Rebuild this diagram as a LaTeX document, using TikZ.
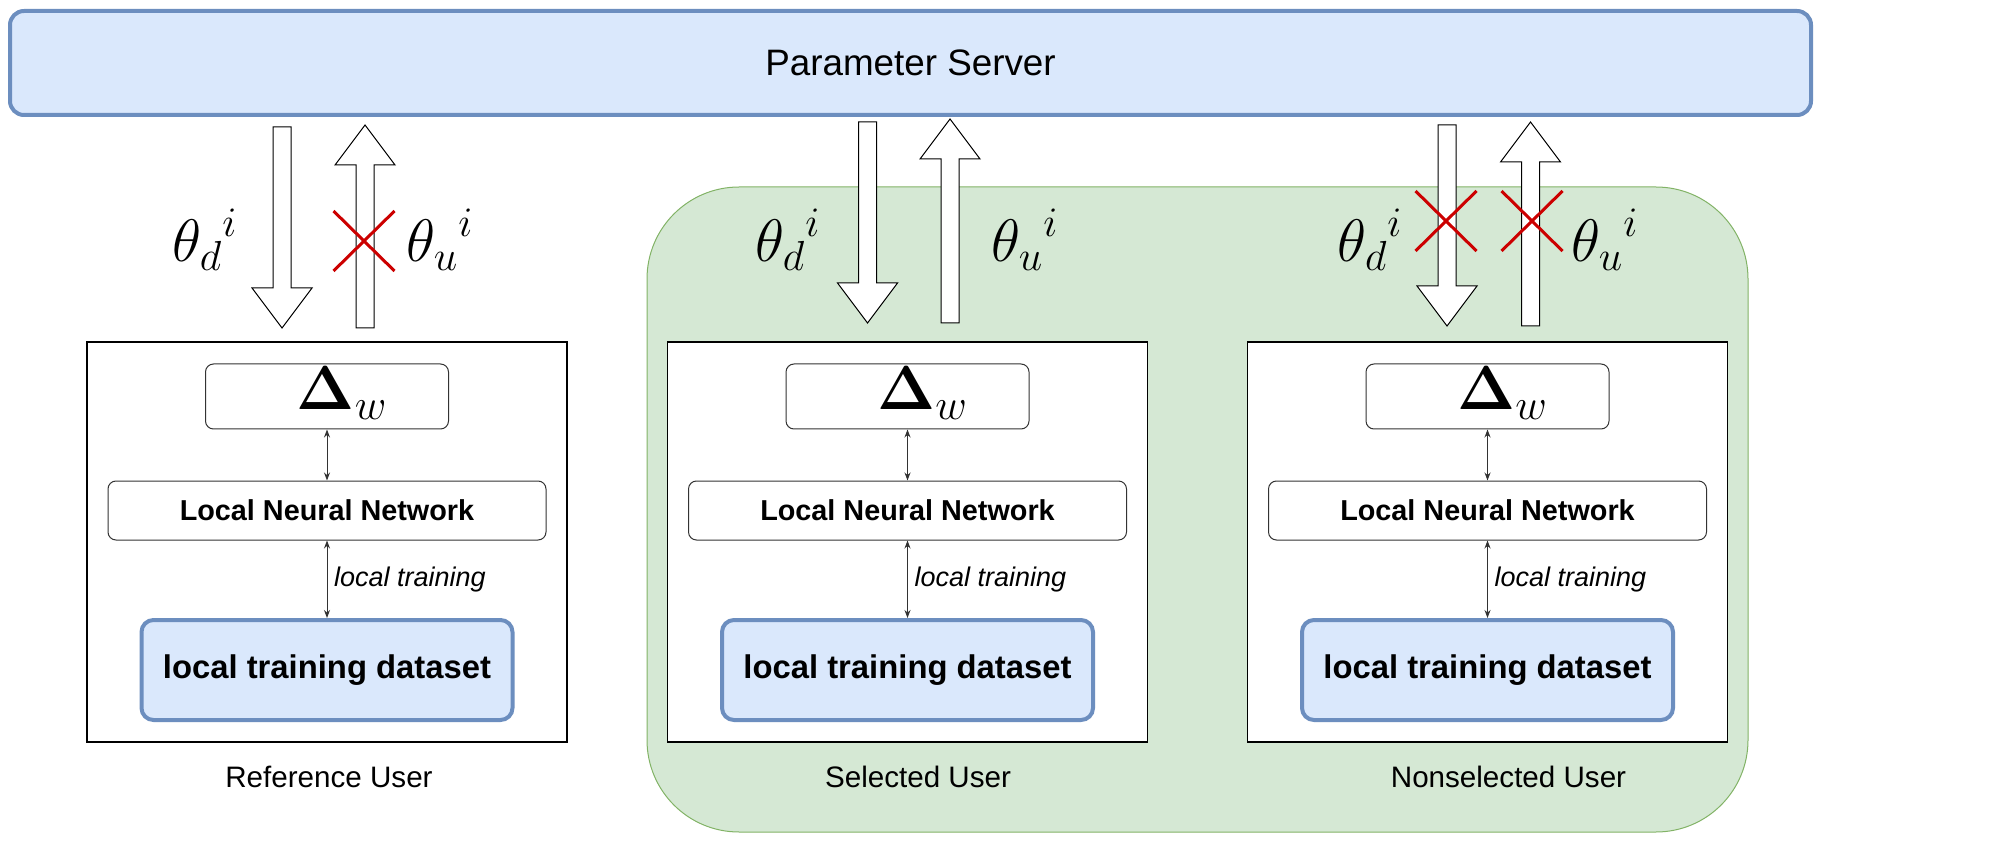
\RequirePackage{fix-cm}
\documentclass[tikz,border=0pt]{standalone}
\usepackage[no-math]{fontspec}
\setmainfont{Liberation Sans}
\usepackage{amsmath}
\usetikzlibrary{shapes.misc, arrows.meta}

\definecolor{psblue}{HTML}{6C8EBF}
\definecolor{psfill}{HTML}{DAE8FC}
\definecolor{selfill}{HTML}{D5E8D4}
\definecolor{selline}{HTML}{82B366}
\definecolor{crossred}{HTML}{CC0000}

% hollow block arrows: x, top, bottom
\newcommand{\downblock}[3]{\draw[block] (#1-9,#2) -- (#1+9,#2) -- (#1+9,#3-40) -- (#1+30,#3-40) -- (#1,#3) -- (#1-30,#3-40) -- (#1-9,#3-40) -- cycle;}
\newcommand{\upblock}[3]{\draw[block] (#1-9,#3) -- (#1+9,#3) -- (#1+9,#2+40) -- (#1+30,#2+40) -- (#1,#2) -- (#1-30,#2+40) -- (#1-9,#2+40) -- cycle;}
\newcommand{\deltaw}{\hspace*{15pt}\raisebox{0pt}[13.5pt][0pt]{$\mathbf{\Delta}_w$}}

\begin{document}
\begin{tikzpicture}[x=0.5pt, y=-0.5pt,
  server/.style={rectangle, rounded corners=7pt, draw=psblue, fill=psfill, line width=2pt, minimum width=900.5pt, minimum height=52pt, font=\fontsize{18.4}{22}\selectfont},
  selected/.style={rectangle, rounded corners=46pt, draw=selline, fill=selfill, line width=0.5pt, minimum width=550.5pt, minimum height=322.5pt},
  user/.style={rectangle, draw=black, fill=white, line width=0.7pt, minimum width=240pt, minimum height=200pt},
  delta/.style={rectangle, rounded corners=4pt, draw=black!80, fill=white, line width=0.5pt, minimum width=121.5pt, minimum height=32.5pt, inner sep=0pt, font=\fontsize{31}{36}\selectfont},
  lnn/.style={rectangle, rounded corners=4pt, draw=black!80, fill=white, line width=0.5pt, minimum width=219pt, minimum height=29.5pt, font=\bfseries\fontsize{14.4}{17}\selectfont},
  dataset/.style={rectangle, rounded corners=6pt, draw=psblue, fill=psfill, line width=2pt, minimum width=185.5pt, minimum height=50pt, font=\bfseries\fontsize{16.4}{19}\selectfont},
  caption/.style={font=\fontsize{14.8}{18}\selectfont},
  train/.style={font=\itshape\fontsize{13.5}{16}\selectfont},
  theta/.style={font=\fontsize{30}{36}\selectfont},
  dbl/.style={draw=black!80, line width=0.5pt, {Stealth[length=4pt,width=3pt]}-{Stealth[length=4pt,width=3pt]}},
  block/.style={draw=black, fill=white, line width=0.5pt},
  nocross/.style={cross out, draw=crossred, line width=1.5pt, minimum width=29pt, minimum height=28.5pt, inner sep=0pt}]
\useasboundingbox (0,0) rectangle (2013,844);

\node[server] (1) at (910.5,63) {Parameter Server};
\node[selected] (2) at (1197.5,509.5) {};

% reference user
\node[user] (10) at (327,542) {};
\node[delta] (11) at (327,396.5) {\deltaw};
\node[lnn] (12) at (327,510.5) {Local Neural Network};
\node[dataset] (13) at (327,670) {local training dataset};
\node[caption] (14) at (329,777) {Reference User};
\draw[dbl] (11) -- (12);
\draw[dbl] (12) --node[right, train]{local training} (13);
\downblock{282}{127}{328}
\upblock{365}{125}{328}
\node[theta] (15) at (205,240) {${\theta_d}^i$};
\node[theta] (16) at (440,240) {${\theta_u}^i$};
\node[nocross] (17) at (364,241) {};

% selected user
\node[user] (20) at (907.5,542) {};
\node[delta] (21) at (907.5,396.5) {\deltaw};
\node[lnn] (22) at (907.5,510.5) {Local Neural Network};
\node[dataset] (23) at (907.5,670) {local training dataset};
\node[caption] (24) at (918,777) {Selected User};
\draw[dbl] (21) -- (22);
\draw[dbl] (22) --node[right, train]{local training} (23);
\downblock{867.5}{122}{323}
\upblock{950}{119}{323}
\node[theta] (25) at (788,240) {${\theta_d}^i$};
\node[theta] (26) at (1025,240) {${\theta_u}^i$};

% nonselected user
\node[user] (30) at (1487.5,542) {};
\node[delta] (31) at (1487.5,396.5) {\deltaw};
\node[lnn] (32) at (1487.5,510.5) {Local Neural Network};
\node[dataset] (33) at (1487.5,670) {local training dataset};
\node[caption] (34) at (1508.5,777) {Nonselected User};
\draw[dbl] (31) -- (32);
\draw[dbl] (32) --node[right, train]{local training} (33);
\downblock{1447}{125}{326}
\upblock{1530.5}{122}{326}
\node[theta] (35) at (1370,240) {${\theta_d}^i$};
\node[theta] (36) at (1605,240) {${\theta_u}^i$};
\node[nocross] (37) at (1446,221) {};
\node[nocross] (38) at (1532,221) {};
\end{tikzpicture}
\end{document}
